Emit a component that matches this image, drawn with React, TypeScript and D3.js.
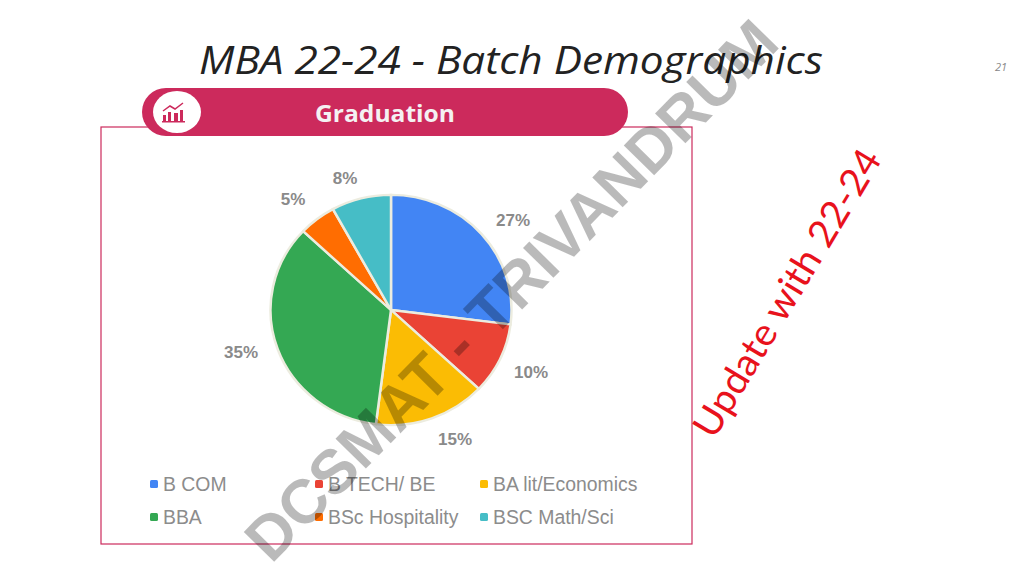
import { useEffect, useRef } from "react";
import * as d3 from "d3";

const categories = ["B COM", "B TECH/ BE", "BA lit/Economics", "BBA", "BSc Hospitality", "BSC Math/Sci"];
const shares = [27, 10, 15, 35, 5, 8];
const colors = ["#4285f4", "#ea4335", "#fbbc04", "#34a853", "#ff6d01", "#46bdc6"];
const labelAnchors = [
  [513, 220],
  [531, 372],
  [455, 439],
  [241, 352],
  [293, 199],
  [345, 178],
];
const legendX = [154, 319, 484];
const legendY = [484, 517];

const width = 1024;
const height = 576;
const pink = "#cc2a5c";

export default function App() {
  const svgRef = useRef<SVGSVGElement>(null);

  useEffect(() => {
    if (!svgRef.current) return;
    const svg = d3.select(svgRef.current);
    svg.selectAll("*").remove(); // Clear previous render

    // Title and page number
    svg.append("text")
      .attr("x", 511).attr("y", 74)
      .attr("text-anchor", "middle")
      .attr("font-family", "Open Sans")
      .attr("font-style", "italic")
      .attr("font-size", 38)
      .attr("textLength", 624)
      .attr("lengthAdjust", "spacingAndGlyphs")
      .attr("fill", "#222")
      .text("MBA 22-24 - Batch Demographics");

    svg.append("text")
      .attr("x", 1001).attr("y", 71)
      .attr("text-anchor", "middle")
      .attr("font-family", "Open Sans")
      .attr("font-style", "italic")
      .attr("font-size", 11)
      .attr("fill", "#888")
      .text("21");

    // Frame
    svg.append("rect")
      .attr("x", 101).attr("y", 127)
      .attr("width", 591).attr("height", 417)
      .attr("fill", "none")
      .attr("stroke", pink)
      .attr("stroke-width", 1.2);

    // Header pill
    svg.append("rect")
      .attr("x", 142).attr("y", 88)
      .attr("width", 486).attr("height", 48)
      .attr("rx", 24)
      .attr("fill", pink);

    svg.append("ellipse")
      .attr("cx", 177).attr("cy", 112)
      .attr("rx", 24).attr("ry", 21)
      .attr("fill", "#fff");

    // Icon: small bars, baseline and trend line
    const icon = svg.append("g").attr("fill", pink);
    [[163, 115, 3, 6], [168, 112, 3, 9], [174, 113, 4, 8], [180, 110, 3, 11]].forEach(([x, y, w, h]) => {
      icon.append("rect").attr("x", x).attr("y", y).attr("width", w).attr("height", h);
    });
    icon.append("rect").attr("x", 162).attr("y", 121).attr("width", 23).attr("height", 1.5);
    icon.append("path")
      .attr("d", "M163 111L170 106L175 109L183 103")
      .attr("fill", "none")
      .attr("stroke", pink)
      .attr("stroke-width", 1.5);

    svg.append("text")
      .attr("x", 385).attr("y", 122)
      .attr("text-anchor", "middle")
      .attr("font-family", "Open Sans")
      .attr("font-weight", 700)
      .attr("font-size", 24)
      .attr("textLength", 140)
      .attr("lengthAdjust", "spacingAndGlyphs")
      .attr("fill", "#f4f1f2")
      .text("Graduation");

    // Pie
    const pie = d3.pie<number>().sort(null).value((d) => d);
    const arc = d3.arc<d3.PieArcDatum<number>>().innerRadius(0).outerRadius(120.5);
    const g = svg.append("g").attr("transform", "translate(391,310) scale(1,0.955)");
    g.selectAll("path.slice")
      .data(pie(shares))
      .enter()
      .append("path")
      .attr("class", "slice")
      .attr("d", arc)
      .attr("fill", (_, i) => colors[i])
      .attr("stroke", "#ececdf")
      .attr("stroke-width", 2.5);

    // Percent labels
    const soft = svg.append("g")
      .attr("font-family", "Liberation Sans")
      .attr("font-size", 17)
      .attr("font-weight", 700)
      .attr("fill", "#8a8a8a");
    shares.forEach((d, i) => {
      soft.append("text")
        .attr("x", labelAnchors[i][0])
        .attr("y", labelAnchors[i][1])
        .attr("dy", "0.35em")
        .attr("text-anchor", "middle")
        .text(`${d}%`);
    });

    // Legend
    const legend = svg.append("g").attr("font-family", "Liberation Sans").attr("font-size", 19.4);
    categories.forEach((name, i) => {
      const x = legendX[i % 3];
      const y = legendY[Math.floor(i / 3)];
      legend.append("rect")
        .attr("x", x - 4).attr("y", y - 4)
        .attr("width", 8).attr("height", 8)
        .attr("rx", 1.5)
        .attr("fill", colors[i]);
      legend.append("text")
        .attr("x", x + 9).attr("y", y)
        .attr("dy", "0.35em")
        .attr("fill", "#8c8c8c")
        .text(name);
    });

    // Watermark
    svg.append("text")
      .attr("transform", "translate(511,290) rotate(-45.5)")
      .attr("text-anchor", "middle")
      .attr("dy", "0.35em")
      .attr("font-family", "Liberation Sans")
      .attr("font-weight", 700)
      .attr("font-size", 62)
      .attr("textLength", 728)
      .attr("lengthAdjust", "spacingAndGlyphs")
      .attr("fill", "#000")
      .attr("fill-opacity", 0.27)
      .text("DCSMAT - TRIVANDRUM");

    // Note
    svg.append("text")
      .attr("transform", "translate(787,293) rotate(-59)")
      .attr("text-anchor", "middle")
      .attr("dy", "0.35em")
      .attr("font-family", "Lato")
      .attr("font-size", 38)
      .attr("textLength", 328)
      .attr("lengthAdjust", "spacingAndGlyphs")
      .attr("fill", "#e8121c")
      .text("Update with 22-24");
  }, []);

  return (
    <svg
      ref={svgRef}
      viewBox={`0 0 ${width} ${height}`}
      width={width}
      height={height}
      style={{ position: "absolute", left: 0, top: 0, background: "#fff" }}
    />
  );
}
